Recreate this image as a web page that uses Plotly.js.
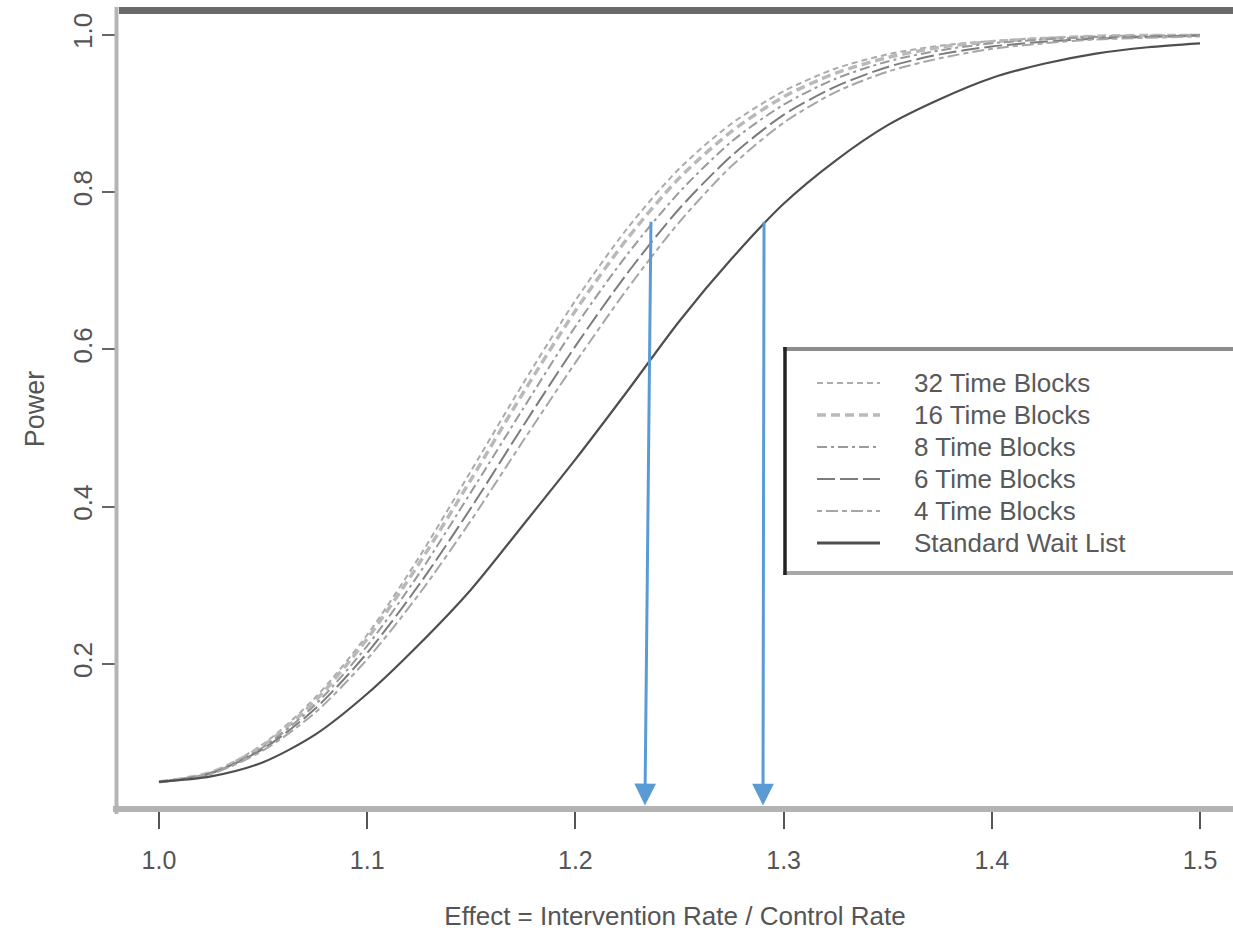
<!DOCTYPE html>
<html>
<head>
<meta charset="utf-8">
<script src="https://cdn.plot.ly/plotly-3.0.1.min.js"></script>
<style>
  html, body { margin: 0; padding: 0; background: #ffffff; }
  #chart { width: 1233px; height: 931px; }
</style>
</head>
<body>
<div id="chart"></div>
<script>
// ---------------- data ----------------
const effect = [1.000, 1.025, 1.050, 1.075, 1.100, 1.125, 1.150, 1.175, 1.200, 1.225, 1.250,
                1.275, 1.300, 1.325, 1.350, 1.375, 1.400, 1.425, 1.450, 1.475, 1.500];

const power32 = [0.050, 0.062, 0.098, 0.157, 0.237, 0.336, 0.446, 0.557, 0.662, 0.754, 0.830,
                 0.887, 0.928, 0.957, 0.975, 0.986, 0.992, 0.996, 0.998, 0.999, 1.000];
const power16 = [0.050, 0.062, 0.096, 0.153, 0.232, 0.328, 0.435, 0.545, 0.649, 0.741, 0.818,
                 0.877, 0.921, 0.951, 0.971, 0.984, 0.991, 0.995, 0.998, 0.999, 0.999];
const power8  = [0.050, 0.061, 0.094, 0.148, 0.223, 0.315, 0.419, 0.525, 0.629, 0.721, 0.800,
                 0.864, 0.911, 0.944, 0.966, 0.980, 0.989, 0.994, 0.997, 0.998, 0.999];
const power6  = [0.050, 0.061, 0.092, 0.143, 0.214, 0.301, 0.399, 0.503, 0.604, 0.697, 0.779,
                 0.846, 0.898, 0.934, 0.959, 0.975, 0.985, 0.991, 0.995, 0.997, 0.999];
const power4  = [0.050, 0.060, 0.090, 0.138, 0.206, 0.289, 0.383, 0.484, 0.583, 0.677, 0.762,
                 0.833, 0.888, 0.927, 0.953, 0.970, 0.982, 0.989, 0.994, 0.996, 0.998];
const powerStd = [0.050, 0.057, 0.075, 0.110, 0.162, 0.225, 0.295, 0.377, 0.460, 0.547, 0.636,
                  0.715, 0.785, 0.840, 0.885, 0.918, 0.945, 0.963, 0.976, 0.984, 0.989];

const seriesNames = ["32 Time Blocks", "16 Time Blocks", "8 Time Blocks",
                     "6 Time Blocks", "4 Time Blocks", "Standard Wait List"];

// blue arrows: [tail effect, tail power] -> [head effect, head power]
const arrowTailEffect = [1.2363, 1.2906];
const arrowTailPower  = [0.764, 0.764];
const arrowHeadEffect = [1.2334, 1.2901];
const arrowHeadPower  = [0.020, 0.020];

const xTickVals = [1.0, 1.1, 1.2, 1.3, 1.4, 1.5];
const xTickText = ["1.0", "1.1", "1.2", "1.3", "1.4", "1.5"];
const yTickVals = [0.2, 0.4, 0.6, 0.8, 1.0];
const yTickText = ["0.2", "0.4", "0.6", "0.8", "1.0"];

const xTitle = "Effect = Intervention Rate / Control Rate";
const yTitle = "Power";

// ---------------- styles ----------------
const seriesData = [power32, power16, power8, power6, power4, powerStd];
const styles = [
  {color: "#ababab", width: 2,   dash: "6px,4px"},
  {color: "#b9b9b9", width: 3.5, dash: "9px,5px"},
  {color: "#9a9a9a", width: 2,   dash: "10px,4px,3px,4px"},
  {color: "#7c7c7c", width: 2,   dash: "18px,5px"},
  {color: "#a6a6a6", width: 2,   dash: "5px,4px,12px,4px"},
  {color: "#4e4e4e", width: 2.2, dash: "solid"}
];

const traces = seriesData.map((ys, i) => ({
  type: "scatter", mode: "lines", x: effect, y: ys, name: seriesNames[i],
  showlegend: false, hoverinfo: "skip",
  line: {color: styles[i].color, width: styles[i].width, dash: styles[i].dash,
         shape: "spline", smoothing: 0.8}
}));

// ---------------- geometry (pixels of the plot frame) ----------------
const W = 1233, H = 931;
const PL = 117, PR = 1233, PT = 10, PB = 808;
const fx = px => (px - PL) / (PR - PL);
const fy = py => (PB - py) / (PB - PT);

const shapes = [];
const annotations = [];

// frame lines
shapes.push({type: "line", xref: "paper", yref: "paper", layer: "above",
  x0: fx(116.5), x1: fx(116.5), y0: fy(7), y1: fy(814), line: {color: "#b5b5b5", width: 4}});
shapes.push({type: "line", xref: "paper", yref: "paper", layer: "above",
  x0: fx(113), x1: fx(1245), y0: fy(809), y1: fy(809), line: {color: "#b3b3b3", width: 6}});
shapes.push({type: "line", xref: "paper", yref: "paper", layer: "above",
  x0: fx(119), x1: fx(1245), y0: fy(10.5), y1: fy(10.5), line: {color: "#6b6969", width: 7}});

// legend box (drawn by hand, its right side lies outside the picture as in the reference)
shapes.push({type: "rect", xref: "paper", yref: "paper", layer: "above",
  x0: fx(785), x1: fx(1245), y0: fy(573), y1: fy(349), fillcolor: "#ffffff",
  line: {width: 0}});
shapes.push({type: "line", xref: "paper", yref: "paper", layer: "above",
  x0: fx(783), x1: fx(1245), y0: fy(349), y1: fy(349), line: {color: "#8c8c8c", width: 4}});
shapes.push({type: "line", xref: "paper", yref: "paper", layer: "above",
  x0: fx(783), x1: fx(1245), y0: fy(573), y1: fy(573), line: {color: "#a8a8a8", width: 4}});
shapes.push({type: "line", xref: "paper", yref: "paper", layer: "above",
  x0: fx(785), x1: fx(785), y0: fy(347), y1: fy(575), line: {color: "#222222", width: 3.5}});

const legendRowsY = [383, 415, 447, 479, 511, 543];
seriesNames.forEach((name, i) => {
  const py = legendRowsY[i];
  shapes.push({type: "line", xref: "paper", yref: "paper", layer: "above",
    x0: fx(817), x1: fx(880), y0: fy(py), y1: fy(py),
    line: {color: styles[i].color, width: i === 5 ? 3 : styles[i].width, dash: styles[i].dash}});
  annotations.push({xref: "paper", yref: "paper", x: fx(912), y: fy(py),
    xanchor: "left", yanchor: "middle", showarrow: false, text: name,
    font: {family: "Liberation Sans, Arial, sans-serif", size: 26, color: "#595959"}});
});

// blue arrows
arrowTailEffect.forEach((ax, i) => {
  annotations.push({xref: "x", yref: "y", axref: "x", ayref: "y",
    x: arrowHeadEffect[i], y: arrowHeadPower[i], ax: ax, ay: arrowTailPower[i],
    text: "", showarrow: true, arrowhead: 2, arrowsize: 1.45, arrowwidth: 3,
    arrowcolor: "#5b9bd5", standoff: 0, startstandoff: 0});
});

const fontFam = "Liberation Sans, Arial, sans-serif";
const layout = {
  width: W, height: H,
  margin: {l: PL, r: W - PR, t: PT, b: H - PB, pad: 0},
  paper_bgcolor: "#ffffff", plot_bgcolor: "#ffffff",
  showlegend: false,
  xaxis: {
    range: [0.97983, 1.51585], showgrid: false, zeroline: false, showline: false,
    tickmode: "array", tickvals: xTickVals, ticktext: xTickText,
    ticks: "outside", ticklen: 20, tickwidth: 2, tickcolor: "#555555",
    tickfont: {family: fontFam, size: 25, color: "#555555"},
    ticklabelstandoff: 10,
    title: {text: xTitle, font: {family: fontFam, size: 26, color: "#555555"}, standoff: 34},
    automargin: false, fixedrange: true
  },
  yaxis: {
    range: [0.01678, 1.0314], showgrid: false, zeroline: false, showline: false,
    tickmode: "array", tickvals: yTickVals, ticktext: yTickText,
    ticks: "outside", ticklen: 14, tickwidth: 2, tickcolor: "#666666",
    tickangle: -90,
    tickfont: {family: fontFam, size: 26, color: "#555555"},
    ticklabelstandoff: 0,
    title: {text: yTitle, font: {family: fontFam, size: 27, color: "#555555"}, standoff: 15},
    automargin: false, fixedrange: true
  },
  shapes: shapes,
  annotations: annotations
};

Plotly.newPlot("chart", traces, layout, {staticPlot: true, displayModeBar: false});
</script>
</body>
</html>
